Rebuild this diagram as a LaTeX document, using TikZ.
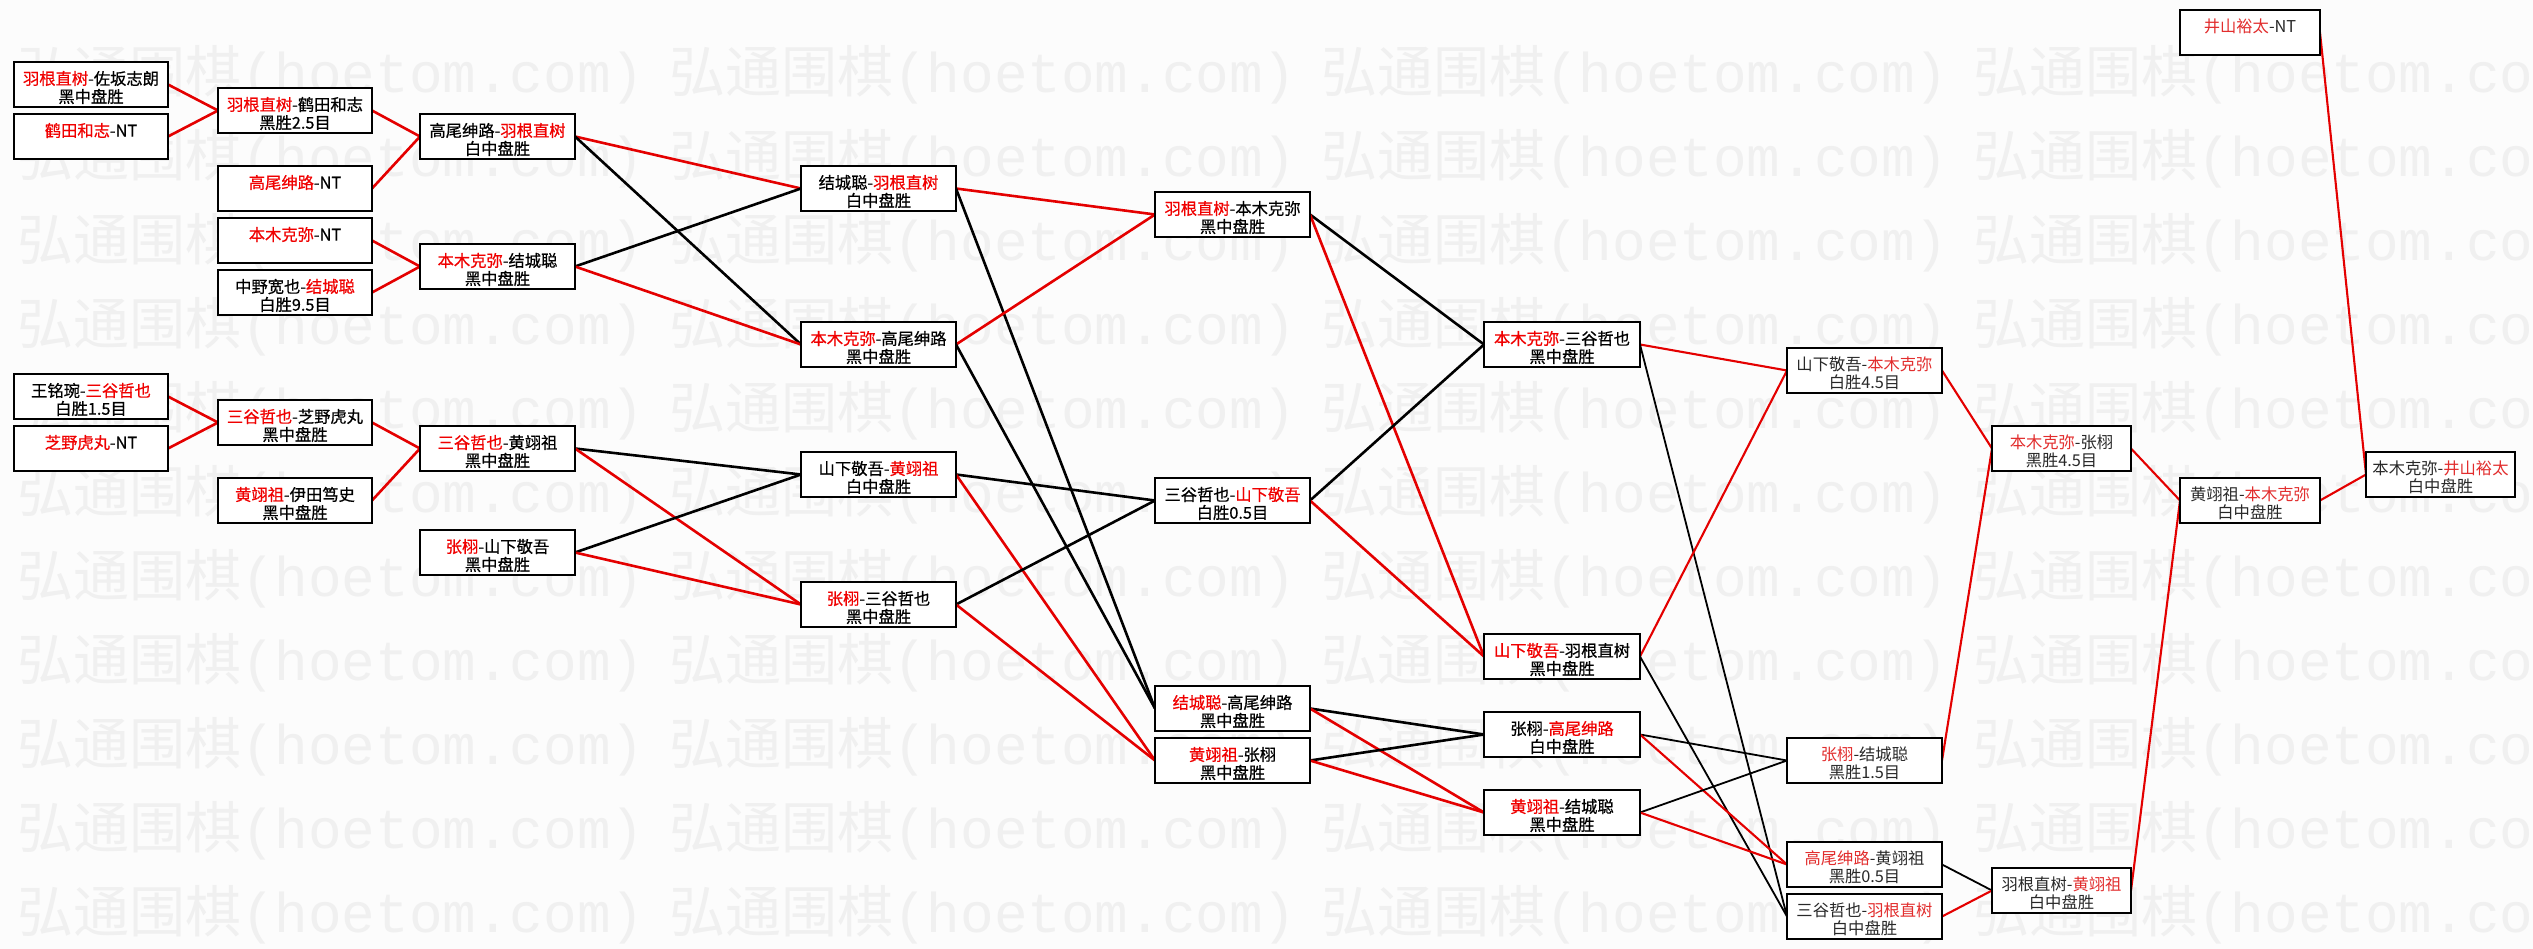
\documentclass[tikz,border=0pt]{standalone}
\usepackage{fontspec}
\setmainfont{Noto Sans CJK SC}
\newfontfamily\cjkheavy[FakeBold=0.6]{Noto Sans CJK SC}
\newfontfamily\wmmono{Liberation Mono}
\pgfdeclarelayer{wm}\pgfdeclarelayer{conn}
\pgfsetlayers{wm,conn,main}
\definecolor{lred}{RGB}{228,0,0}
\definecolor{tred}{RGB}{240,0,0}
\definecolor{tredb}{RGB}{226,45,45}
\definecolor{tgray}{RGB}{40,40,40}
\definecolor{wmc}{RGB}{240,240,240}
\definecolor{bgc}{RGB}{252,252,252}
\newcommand\R[1]{\textcolor{tred}{#1}}
\newcommand\Rr[1]{\textcolor{tredb}{#1}}
\tikzset{
  gbox/.style={draw=black, fill=white, line width=2.7pt, inner sep=0pt, outer sep=0pt, minimum height=45pt},
  gboxt/.style={gbox, line width=1.8pt},
  gtxt/.style={inner sep=0pt, outer sep=0pt, text height=14.4pt, text depth=2pt, font=\cjkheavy\fontsize{16.3}{18}\selectfont},
  gtxtt/.style={inner sep=0pt, outer sep=0pt, text height=14.4pt, text depth=2pt, font=\fontsize{16.3}{18}\selectfont, text=tgray},
  rl/.style={draw=lred, line width=2.6pt},
  bl/.style={draw=black, line width=2.6pt},
  rlt/.style={draw=lred, line width=2.1pt},
  blt/.style={draw=black, line width=1.8pt},
  wmtext/.style={text=wmc, inner sep=0pt, font=\fontsize{56}{60}\selectfont}
}
% name, box style, text style, x1, x2, ytop, line1, line2
\newcommand\mkbox[8]{%
  \node[#2, minimum width={#5-#4}, anchor=north west] (#1) at (#4,#6) {};
  \node[#3] (#1a) at ([yshift=-16.5pt]#1.north) {#7};
  \node[#3] (#1b) at ([yshift=-34.5pt]#1.north) {#8};
}
\begin{document}
\begin{tikzpicture}[x=1pt,y=-1pt]
\useasboundingbox (0,0) rectangle (2533,949);
\begin{pgfonlayer}{wm}
\fill[bgc] (0,0) rectangle (2533,949);
\foreach \r in {0,...,10}{
  \foreach \c in {0,...,3}{
    \node[wmtext, anchor=west] (w\r-\c) at ({17+652*\c},{75+84*\r}) {弘通围棋{\wmmono (hoetom.com)}};
  }
}
\end{pgfonlayer}
% column A
\mkbox{A1}{gbox}{gtxt}{14}{168}{62}{\R{羽根直树}-佐坂志朗}{黑中盘胜}
\mkbox{A2}{gbox}{gtxt}{14}{168}{114}{\R{鹤田和志}-NT}{}
\mkbox{A3}{gbox}{gtxt}{14}{168}{374}{王铭琬-\R{三谷哲也}}{白胜1.5目}
\mkbox{A4}{gbox}{gtxt}{14}{168}{426}{\R{芝野虎丸}-NT}{}
% column B
\mkbox{B1}{gbox}{gtxt}{218}{372}{88}{\R{羽根直树}-鹤田和志}{黑胜2.5目}
\mkbox{B2}{gbox}{gtxt}{218}{372}{166}{\R{高尾绅路}-NT}{}
\mkbox{B3}{gbox}{gtxt}{218}{372}{218}{\R{本木克弥}-NT}{}
\mkbox{B4}{gbox}{gtxt}{218}{372}{270}{中野宽也-\R{结城聪}}{白胜9.5目}
\mkbox{B5}{gbox}{gtxt}{218}{372}{400}{\R{三谷哲也}-芝野虎丸}{黑中盘胜}
\mkbox{B6}{gbox}{gtxt}{218}{372}{478}{\R{黄翊祖}-伊田笃史}{黑中盘胜}
% column C
\mkbox{C1}{gbox}{gtxt}{420}{575}{114}{高尾绅路-\R{羽根直树}}{白中盘胜}
\mkbox{C2}{gbox}{gtxt}{420}{575}{244}{\R{本木克弥}-结城聪}{黑中盘胜}
\mkbox{C3}{gbox}{gtxt}{420}{575}{426}{\R{三谷哲也}-黄翊祖}{黑中盘胜}
\mkbox{C4}{gbox}{gtxt}{420}{575}{530}{\R{张栩}-山下敬吾}{黑中盘胜}
% column D
\mkbox{D1}{gbox}{gtxt}{801}{956}{166}{结城聪-\R{羽根直树}}{白中盘胜}
\mkbox{D2}{gbox}{gtxt}{801}{956}{322}{\R{本木克弥}-高尾绅路}{黑中盘胜}
\mkbox{D3}{gbox}{gtxt}{801}{956}{452}{山下敬吾-\R{黄翊祖}}{白中盘胜}
\mkbox{D4}{gbox}{gtxt}{801}{956}{582}{\R{张栩}-三谷哲也}{黑中盘胜}
% column E
\mkbox{E1}{gbox}{gtxt}{1155}{1310}{192}{\R{羽根直树}-本木克弥}{黑中盘胜}
\mkbox{E2}{gbox}{gtxt}{1155}{1310}{478}{三谷哲也-\R{山下敬吾}}{白胜0.5目}
\mkbox{E3}{gbox}{gtxt}{1155}{1310}{686}{\R{结城聪}-高尾绅路}{黑中盘胜}
\mkbox{E4}{gbox}{gtxt}{1155}{1310}{738}{\R{黄翊祖}-张栩}{黑中盘胜}
% column F
\mkbox{F1}{gbox}{gtxt}{1484}{1640}{322}{\R{本木克弥}-三谷哲也}{黑中盘胜}
\mkbox{F2}{gbox}{gtxt}{1484}{1640}{634}{\R{山下敬吾}-羽根直树}{黑中盘胜}
\mkbox{F3}{gbox}{gtxt}{1484}{1640}{712}{张栩-\R{高尾绅路}}{白中盘胜}
\mkbox{F4}{gbox}{gtxt}{1484}{1640}{790}{\R{黄翊祖}-结城聪}{黑中盘胜}
% column G
\mkbox{G1}{gboxt}{gtxtt}{1787}{1942}{348}{山下敬吾-\Rr{本木克弥}}{白胜4.5目}
\mkbox{G2}{gboxt}{gtxtt}{1787}{1942}{738}{\Rr{张栩}-结城聪}{黑胜1.5目}
\mkbox{G3}{gboxt}{gtxtt}{1787}{1942}{842}{\Rr{高尾绅路}-黄翊祖}{黑胜0.5目}
\mkbox{G4}{gboxt}{gtxtt}{1787}{1942}{894}{三谷哲也-\Rr{羽根直树}}{白中盘胜}
% column H
\mkbox{H1}{gboxt}{gtxtt}{1992}{2131}{426}{\Rr{本木克弥}-张栩}{黑胜4.5目}
\mkbox{H2}{gboxt}{gtxtt}{1992}{2131}{868}{羽根直树-\Rr{黄翊祖}}{白中盘胜}
% columns I, J
\mkbox{I1}{gboxt}{gtxtt}{2180}{2320}{478}{黄翊祖-\Rr{本木克弥}}{白中盘胜}
\mkbox{J0}{gboxt}{gtxtt}{2180}{2320}{10}{\Rr{井山裕太}-NT}{}
\mkbox{J1}{gboxt}{gtxtt}{2366}{2515}{452}{本木克弥-\Rr{井山裕太}}{白中盘胜}
\begin{pgfonlayer}{conn}
% A -> B
\draw[rl] (A1.east) -- (B1.west);
\draw[rl] (A2.east) -- (B1.west);
\draw[rl] (A3.east) -- (B5.west);
\draw[rl] (A4.east) -- (B5.west);
% B -> C
\draw[rl] (B1.east) -- (C1.west);
\draw[rl] (B2.east) -- (C1.west);
\draw[rl] (B3.east) -- (C2.west);
\draw[rl] (B4.east) -- (C2.west);
\draw[rl] (B5.east) -- (C3.west);
\draw[rl] (B6.east) -- (C3.west);
% C -> D
\draw[rl] (C1.east) -- (D1.west);
\draw[bl] (C1.east) -- (D2.west);
\draw[bl] (C2.east) -- (D1.west);
\draw[rl] (C2.east) -- (D2.west);
\draw[bl] (C3.east) -- (D3.west);
\draw[rl] (C3.east) -- (D4.west);
\draw[bl] (C4.east) -- (D3.west);
\draw[rl] (C4.east) -- (D4.west);
% D -> E
\draw[rl] (D1.east) -- (E1.west);
\draw[bl] (D1.east) -- (E3.west);
\draw[rl] (D2.east) -- (E1.west);
\draw[bl] (D2.east) -- (E3.west);
\draw[bl] (D3.east) -- (E2.west);
\draw[rl] (D3.east) -- (E4.west);
\draw[bl] (D4.east) -- (E2.west);
\draw[rl] (D4.east) -- (E4.west);
% E -> F
\draw[bl] (E1.east) -- (F1.west);
\draw[rl] (E1.east) -- (F2.west);
\draw[bl] (E2.east) -- (F1.west);
\draw[rl] (E2.east) -- (F2.west);
\draw[bl] (E3.east) -- (F3.west);
\draw[rl] (E3.east) -- (F4.west);
\draw[bl] (E4.east) -- (F3.west);
\draw[rl] (E4.east) -- (F4.west);
% F -> G
\draw[rlt] (F1.east) -- (G1.west);
\draw[blt] (F1.east) -- (G4.west);
\draw[rlt] (F2.east) -- (G1.west);
\draw[blt] (F2.east) -- (G4.west);
\draw[blt] (F3.east) -- (G2.west);
\draw[rlt] (F3.east) -- (G3.west);
\draw[blt] (F4.east) -- (G2.west);
\draw[rlt] (F4.east) -- (G3.west);
% G -> H
\draw[rlt] (G1.east) -- (H1.west);
\draw[rlt] (G2.east) -- (H1.west);
\draw[blt] (G3.east) -- (H2.west);
\draw[rlt] (G4.east) -- (H2.west);
% H -> I -> J
\draw[rlt] (H1.east) -- (I1.west);
\draw[rlt] (H2.east) -- (I1.west);
\draw[rlt] (I1.east) -- (J1.west);
\draw[rlt] (J0.east) -- (J1.west);
\end{pgfonlayer}
\end{tikzpicture}
\end{document}
